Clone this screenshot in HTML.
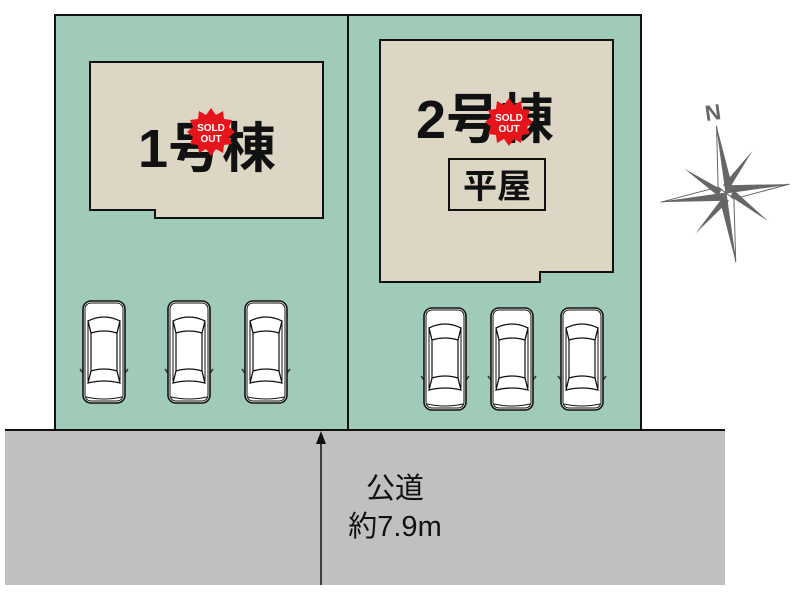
<!DOCTYPE html>
<html><head><meta charset="utf-8"><style>
html,body{margin:0;padding:0;background:#fff;}
svg{display:block;}
text{font-family:"Liberation Sans","Noto Sans CJK JP",sans-serif;}
</style></head><body>
<svg width="800" height="600" viewBox="0 0 800 600" xmlns="http://www.w3.org/2000/svg">
<defs>
<g id="car">
<path d="M-21,22 L-24,18 M21,22 L24,18" stroke="#333" stroke-width="1.5"/>
<rect x="-21" y="-50" width="42" height="102" rx="8" fill="#fff" stroke="#111" stroke-width="1.6"/>
<rect x="-19" y="-48" width="38" height="98" rx="6" fill="none" stroke="#111" stroke-width="1"/>
<path d="M-16,-30 Q0,-38 16,-30 L13,-18 Q0,-22 -13,-18 Z" fill="#fff" stroke="#111" stroke-width="1.3"/>
<path d="M-13,-18 L-13,20 M13,-18 L13,20" stroke="#111" stroke-width="1.2"/>
<path d="M-16,-30 L-16,30 M16,-30 L16,30" stroke="#111" stroke-width="1"/>
<path d="M-13,20 Q0,16 13,20 L16,32 Q0,28 -16,32 Z" fill="#fff" stroke="#111" stroke-width="1.3"/>
<path d="M-18,46 Q0,50 18,46" stroke="#111" fill="none"/>
</g>
</defs>
<rect width="800" height="600" fill="#fff"/>
<rect x="55" y="15" width="586" height="415" fill="#9fcbb8" stroke="#111" stroke-width="2"/>
<line x1="348" y1="15" x2="348" y2="430" stroke="#111" stroke-width="2"/>
<path d="M90,62 L323,62 L323,218 L155,218 L155,210 L90,210 Z" fill="#ddd6c4" stroke="#111" stroke-width="2"/>
<path d="M380,40 L613,40 L613,272 L540,272 L540,282 L380,282 Z" fill="#ddd6c4" stroke="#111" stroke-width="2"/>
<text x="138" y="167" font-size="54" font-weight="bold" fill="#111">1号棟</text>
<text x="416" y="138" font-size="54" font-weight="bold" fill="#111">2号棟</text>
<rect x="449" y="159" width="96" height="51" fill="none" stroke="#111" stroke-width="2"/>
<text x="497" y="198" font-size="34" font-weight="bold" text-anchor="middle" fill="#111">平屋</text>
<g transform="translate(211,132)">
<polygon points="0,-24 5,-17 12,-21 13,-13 21,-12 18,-5 24,0 18,5 21,12 13,13 12,21 5,17 0,24 -5,17 -12,21 -13,13 -21,12 -18,5 -24,0 -18,-5 -21,-12 -13,-13 -12,-21 -5,-17" fill="#e8141c"/>
<text x="0" y="-1" font-size="10" fill="#fff" text-anchor="middle" font-weight="bold">SOLD</text>
<text x="0" y="10" font-size="10" fill="#fff" text-anchor="middle" font-weight="bold">OUT</text>
</g>
<g transform="translate(509,122)">
<polygon points="0,-24 5,-17 12,-21 13,-13 21,-12 18,-5 24,0 18,5 21,12 13,13 12,21 5,17 0,24 -5,17 -12,21 -13,13 -21,12 -18,5 -24,0 -18,-5 -21,-12 -13,-13 -12,-21 -5,-17" fill="#e8141c"/>
<text x="0" y="-1" font-size="10" fill="#fff" text-anchor="middle" font-weight="bold">SOLD</text>
<text x="0" y="10" font-size="10" fill="#fff" text-anchor="middle" font-weight="bold">OUT</text>
</g>
<use href="#car" transform="translate(104,351)"/>
<use href="#car" transform="translate(189,351)"/>
<use href="#car" transform="translate(266,351)"/>
<use href="#car" transform="translate(445,358)"/>
<use href="#car" transform="translate(512,358)"/>
<use href="#car" transform="translate(582,358)"/>
<rect x="5" y="430" width="720" height="155" fill="#c0c0c0"/>
<line x1="5" y1="430" x2="725" y2="430" stroke="#111" stroke-width="2"/>
<line x1="321" y1="585" x2="321" y2="440" stroke="#111" stroke-width="1.5"/>
<polygon points="321,431 316,444 326,444" fill="#111"/>
<text x="395" y="498" font-size="29" text-anchor="middle" fill="#111">公道</text>
<text x="395" y="536" font-size="29" text-anchor="middle" fill="#111">約7.9m</text>
<g transform="translate(726,193) rotate(-8)" fill="#666">
<polygon points="0,-68 7,-7 0,0"/>
<polygon points="0,-68 -7,-7 0,0" fill="#fff" stroke="#666"/>
<polygon points="0,70 -7,7 0,0"/>
<polygon points="0,70 7,7 0,0" fill="#fff" stroke="#666"/>
<polygon points="-66,0 -7,7 0,0"/>
<polygon points="-66,0 -7,-7 0,0" fill="#fff" stroke="#666"/>
<polygon points="64,0 7,-7 0,0"/>
<polygon points="64,0 7,7 0,0" fill="#fff" stroke="#666"/>
<polygon points="-38,-30 -4,-4 -8,2"/>
<polygon points="32,-38 4,-4 -2,-8"/>
<polygon points="38,34 4,4 8,-2"/>
<polygon points="-36,36 -4,4 2,8"/>
</g>
<text x="714" y="120" font-size="22" font-weight="bold" fill="#666" transform="rotate(-8 714 120)" text-anchor="middle">N</text>
</svg>
</body></html>
